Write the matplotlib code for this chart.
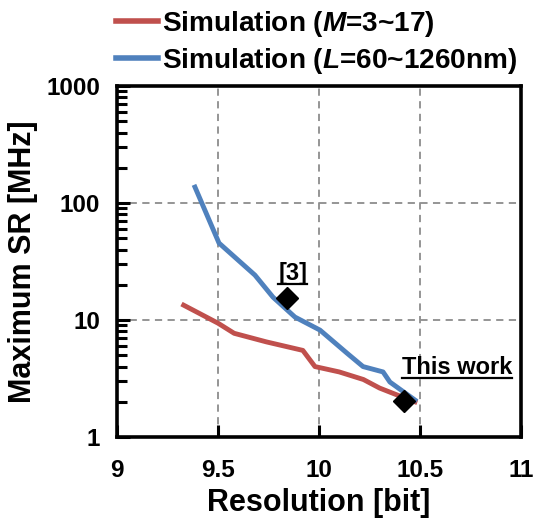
import matplotlib
matplotlib.use("Agg")
import matplotlib.pyplot as plt
from matplotlib.lines import Line2D

plt.rcParams['font.family'] = ['Liberation Sans', 'DejaVu Sans']
plt.rcParams['font.weight'] = 'bold'
plt.rcParams['mathtext.fontset'] = 'custom'
plt.rcParams['mathtext.rm'] = 'Liberation Sans:bold'
plt.rcParams['mathtext.it'] = 'Liberation Sans:italic:bold'

# datos
res_m = [9.33, 9.50, 9.58, 9.74, 9.92, 9.98, 10.10, 10.22, 10.30, 10.40, 10.475]
sr_m = [13.4, 9.4, 7.7, 6.5, 5.5, 4.0, 3.6, 3.1, 2.62, 2.24, 2.0]

res_l = [9.386, 9.505, 9.683, 9.772, 9.881, 10.005, 10.139, 10.218, 10.317, 10.351, 10.475]
sr_l = [137, 45.5, 24.2, 15.7, 10.6, 8.2, 5.2, 4.0, 3.6, 2.95, 2.07]

ref_x = [9.842]
ref_y = [15.4]
this_x = [10.42]
this_y = [2.03]

rojo = '#C0504D'
azul = '#4F81BD'

fig = plt.figure(figsize=(5.33, 5.30), dpi=100)
ax = fig.add_axes([0.2195, 0.1755, 0.758, 0.662])

ax.plot(res_m, sr_m, color=rojo, lw=3.5, label='Simulation ($M$=3~17)', zorder=3)
ax.plot(res_l, sr_l, color=azul, lw=3.5, label='Simulation ($L$=60~1260nm)', zorder=3)
ax.plot(ref_x, ref_y, 'D', color='black', ms=11, zorder=4)
ax.plot(this_x, this_y, 'D', color='black', ms=11, zorder=4)

ax.set_yscale('log')
ax.set_xlim(9, 11)
ax.set_ylim(1, 1000)
ax.set_xticks([9, 9.5, 10, 10.5, 11])
ax.set_xticklabels(['9', '9.5', '10', '10.5', '11'])
ax.set_yticks([1, 10, 100, 1000])
ax.set_yticklabels(['1', '10', '100', '1000'])

ax.grid(True, which='major', color='#8c8c8c', ls=(0, (4, 3)), lw=1.3)
ax.tick_params(axis='both', which='major', direction='in', length=9, width=2.2,
               labelsize=17.5, right=False, top=False)
ax.tick_params(axis='x', pad=16)
ax.tick_params(axis='y', pad=12)
ax.tick_params(axis='y', which='minor', direction='in', length=7, width=2.2, right=False)
ax.tick_params(axis='x', which='minor', bottom=False)
for s in ax.spines.values():
    s.set_linewidth(2.6)
for lab in ax.get_xticklabels() + ax.get_yticklabels():
    lab.set_fontweight('bold')

ax.set_xlabel('Resolution [bit]', fontsize=22, fontweight='bold', labelpad=4)
ax.set_ylabel('Maximum SR [MHz]', fontsize=22, fontweight='bold', labelpad=6)

t1 = ax.text(9.871, 25.2, '[3]', fontsize=17, fontweight='bold', ha='center', va='center')
t2 = ax.text(10.683, 3.89, 'This work', fontsize=17, fontweight='bold', ha='center', va='center')

leg = fig.legend(loc='upper left', bbox_to_anchor=(0.196, 1.005), frameon=False,
                 fontsize=20.2, handlelength=1.5, handletextpad=0.15, labelspacing=0.25,
                 borderaxespad=0.0)
for ln in leg.get_lines():
    ln.set_linewidth(4)

# subrayado de las anotaciones
fig.canvas.draw()
r = fig.canvas.get_renderer()
inv = fig.transFigure.inverted()
for t in (t1, t2):
    bb = t.get_window_extent(renderer=r)
    (x0, y0), (x1, y1) = inv.transform([(bb.x0, bb.y0), (bb.x1, bb.y1)])
    fig.add_artist(Line2D([x0, x1], [y0 + 0.002, y0 + 0.002], color='black', lw=1.6,
                          transform=fig.transFigure))

fig.savefig('out.png', dpi=100)
